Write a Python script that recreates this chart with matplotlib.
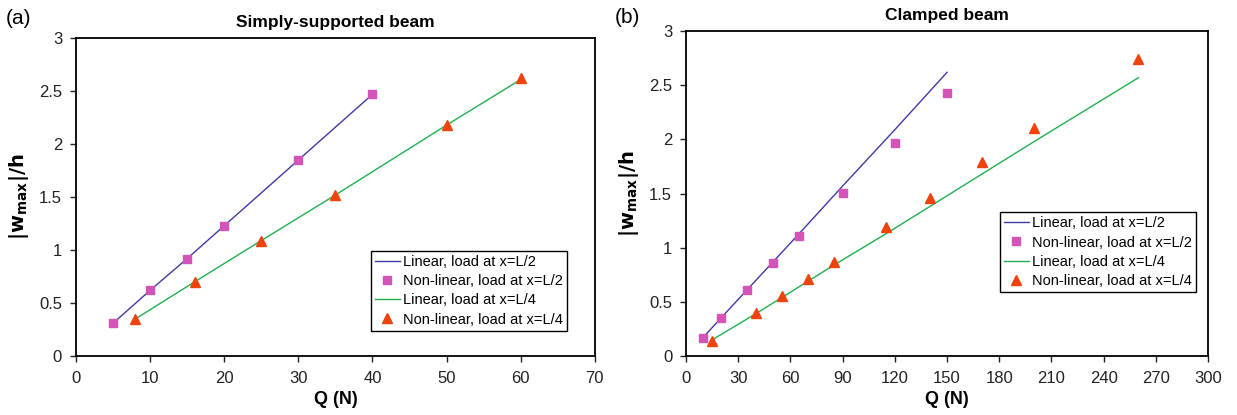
import numpy as np
import matplotlib.pyplot as plt

# simply-supported beam
ss_q_mid = [5, 10, 15, 20, 30, 40]
ss_lin_mid = [0.31, 0.62, 0.92, 1.23, 1.85, 2.47]
ss_nl_mid = [0.31, 0.62, 0.92, 1.23, 1.85, 2.47]
ss_q_qtr = [8, 16, 25, 35, 50, 60]
ss_lin_qtr = [0.35, 0.70, 1.09, 1.52, 2.18, 2.61]
ss_nl_qtr = [0.35, 0.70, 1.09, 1.52, 2.18, 2.62]

# clamped beam
cl_q_mid = [10, 20, 35, 50, 65, 90, 120, 150]
cl_lin_mid = [0.175, 0.35, 0.61, 0.87, 1.13, 1.57, 2.09, 2.62]
cl_nl_mid = [0.17, 0.35, 0.61, 0.86, 1.11, 1.51, 1.97, 2.43]
cl_q_qtr = [15, 40, 55, 70, 85, 115, 140, 170, 200, 260]
cl_lin_qtr = [0.15, 0.39, 0.54, 0.69, 0.84, 1.13, 1.38, 1.68, 1.98, 2.57]
cl_nl_qtr = [0.14, 0.40, 0.55, 0.71, 0.87, 1.19, 1.46, 1.79, 2.11, 2.74]

plt.rcParams['font.family'] = ['Liberation Sans', 'DejaVu Sans']

c_blue = '#3f3aa6'
c_pink = '#d154b6'
c_green = '#1fb04e'
c_orange = '#f0420c'


def draw(ax, qm, lm, nm, qq, lq, nq, title, xmax, xstep, anchor):
    ax.plot(qm, lm, color=c_blue, lw=1.0, label='Linear, load at x=L/2')
    ax.plot(qm, nm, ls='none', marker='s', ms=6, color=c_pink,
            label='Non-linear, load at x=L/2')
    ax.plot(qq, lq, color=c_green, lw=1.0, label='Linear, load at x=L/4')
    ax.plot(qq, nq, ls='none', marker='^', ms=6.5, color=c_orange,
            label='Non-linear, load at x=L/4')
    ax.set_xlim(0, xmax)
    ax.set_ylim(0, 3)
    ax.set_xticks(np.arange(0, xmax + 1, xstep))
    ax.set_yticks([0, 0.5, 1, 1.5, 2, 2.5, 3])
    ax.set_yticklabels(['0', '0.5', '1', '1.5', '2', '2.5', '3'])
    ax.tick_params(labelsize=12, direction='out', length=4, width=1,
                   colors='#222222')
    ax.tick_params(axis='x', pad=7)
    ax.tick_params(axis='y', pad=6)
    for s in ax.spines.values():
        s.set_linewidth(1.3)
    ax.set_title(title, fontsize=12.5, fontweight='bold', pad=8)
    ax.set_xlabel('Q (N)', fontsize=13, fontweight='bold', labelpad=3)
    ax.set_ylabel(r'$\mathbf{|w_{max}|/h}$', fontsize=14, labelpad=6)
    leg = ax.legend(loc='center right', bbox_to_anchor=anchor,
                    fontsize=10.5, frameon=True, fancybox=False,
                    edgecolor='black', framealpha=1, borderpad=0.3,
                    handlelength=1.7, handletextpad=0.2, labelspacing=0.35,
                    borderaxespad=0.0)
    leg.get_frame().set_linewidth(1.0)


fig = plt.figure(figsize=(12.37, 4.15), dpi=100)
ax1 = fig.add_axes([0.0614, 0.142, 0.4195, 0.766])
ax2 = fig.add_axes([0.5546, 0.142, 0.4220, 0.783])

draw(ax1, ss_q_mid, ss_lin_mid, ss_nl_mid, ss_q_qtr, ss_lin_qtr,
     ss_nl_qtr, 'Simply-supported beam', 70, 10, (0.946, 0.205))
draw(ax2, cl_q_mid, cl_lin_mid, cl_nl_mid, cl_q_qtr, cl_lin_qtr,
     cl_nl_qtr, 'Clamped beam', 300, 30, (0.977, 0.32))

fig.text(0.005, 0.942, '(a)', fontsize=15)
fig.text(0.497, 0.945, '(b)', fontsize=15)

fig.savefig('out.png', dpi=100)
